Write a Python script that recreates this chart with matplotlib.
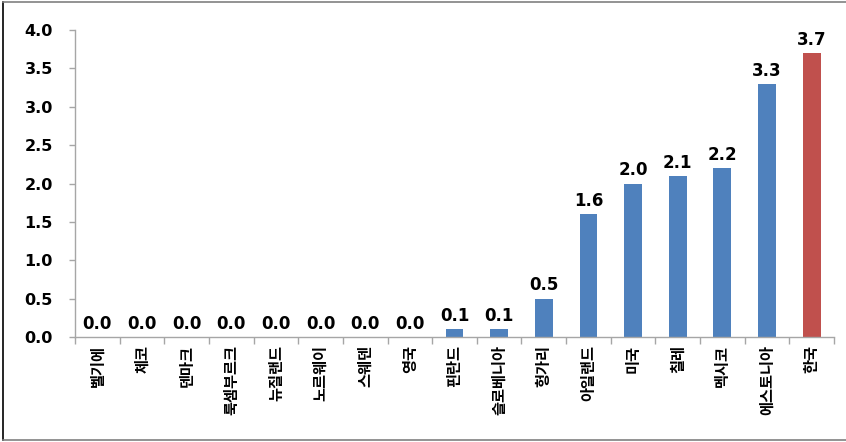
import matplotlib
matplotlib.use("Agg")
import matplotlib.pyplot as plt
from matplotlib.lines import Line2D
import numpy as np

countries = ["벨기에", "체코", "덴마크", "룩셈부르크", "뉴질랜드", "노르웨이", "스웨덴", "영국",
             "핀란드", "슬로베니아", "헝가리", "아일랜드", "미국", "칠레", "멕시코", "에스토니아", "한국"]
values = [0.0, 0.0, 0.0, 0.0, 0.0, 0.0, 0.0, 0.0, 0.1, 0.1, 0.5, 1.6, 2.0, 2.1, 2.2, 3.3, 3.7]
highlight = "한국"
y_ticks = [0.0, 0.5, 1.0, 1.5, 2.0, 2.5, 3.0, 3.5, 4.0]

blue = "#4F81BD"
red = "#C0504D"
axis_gray = "#A6A6A6"

plt.rcParams["font.family"] = ["DejaVu Sans", "Noto Sans CJK KR"]

fig = plt.figure(figsize=(8.46, 4.42), dpi=100)
ax = fig.add_axes([75 / 846, 1 - 337 / 442, (834 - 75) / 846, (337 - 30) / 442])

x = np.arange(len(countries))
colors = [red if c == highlight else blue for c in countries]
ax.bar(x, values, width=0.4, color=colors, zorder=2)

for xi, v in zip(x, values):
    ax.annotate(f"{v:.1f}", (xi, v), xytext=(0, 3), textcoords="offset points",
                ha="center", va="bottom", fontsize=12, fontweight="bold", color="black")

ax.set_xlim(-0.5, len(countries) - 0.5)
ax.set_ylim(0, 4.0)
ax.set_yticks(y_ticks)
ax.set_yticklabels([f"{t:.1f}" for t in y_ticks], fontsize=11.5, fontweight="bold")
ax.tick_params(axis="y", direction="out", length=4, width=1, color=axis_gray, pad=12)

# category boundary ticks on the x axis
ax.set_xticks(np.arange(-0.5, len(countries), 1.0), minor=False)
ax.set_xticklabels([])
ax.tick_params(axis="x", which="major", direction="out", length=5, width=1, color=axis_gray)
ax.set_xticks(x, minor=True)
ax.set_xticklabels(countries, minor=True, rotation=90, va="top", ha="center",
                   fontsize=11, fontweight="bold", family=["Noto Sans CJK KR", "DejaVu Sans"])
ax.tick_params(axis="x", which="minor", length=0, pad=6)

for side in ("top", "right"):
    ax.spines[side].set_visible(False)
for side in ("left", "bottom"):
    ax.spines[side].set_color(axis_gray)
    ax.spines[side].set_linewidth(1)

# outer frame of the figure
fig.add_artist(Line2D([3 / 846, 3 / 846], [1 - 2 / 442, 1 - 440 / 442], transform=fig.transFigure,
                      color="black", lw=1.2))
fig.add_artist(Line2D([3 / 846, 1], [1 - 2 / 442, 1 - 2 / 442], transform=fig.transFigure,
                      color="#808080", lw=1.2))
fig.add_artist(Line2D([3 / 846, 1], [1 - 440 / 442, 1 - 440 / 442], transform=fig.transFigure,
                      color="#808080", lw=1.2))

fig.savefig("out.png", dpi=100)
